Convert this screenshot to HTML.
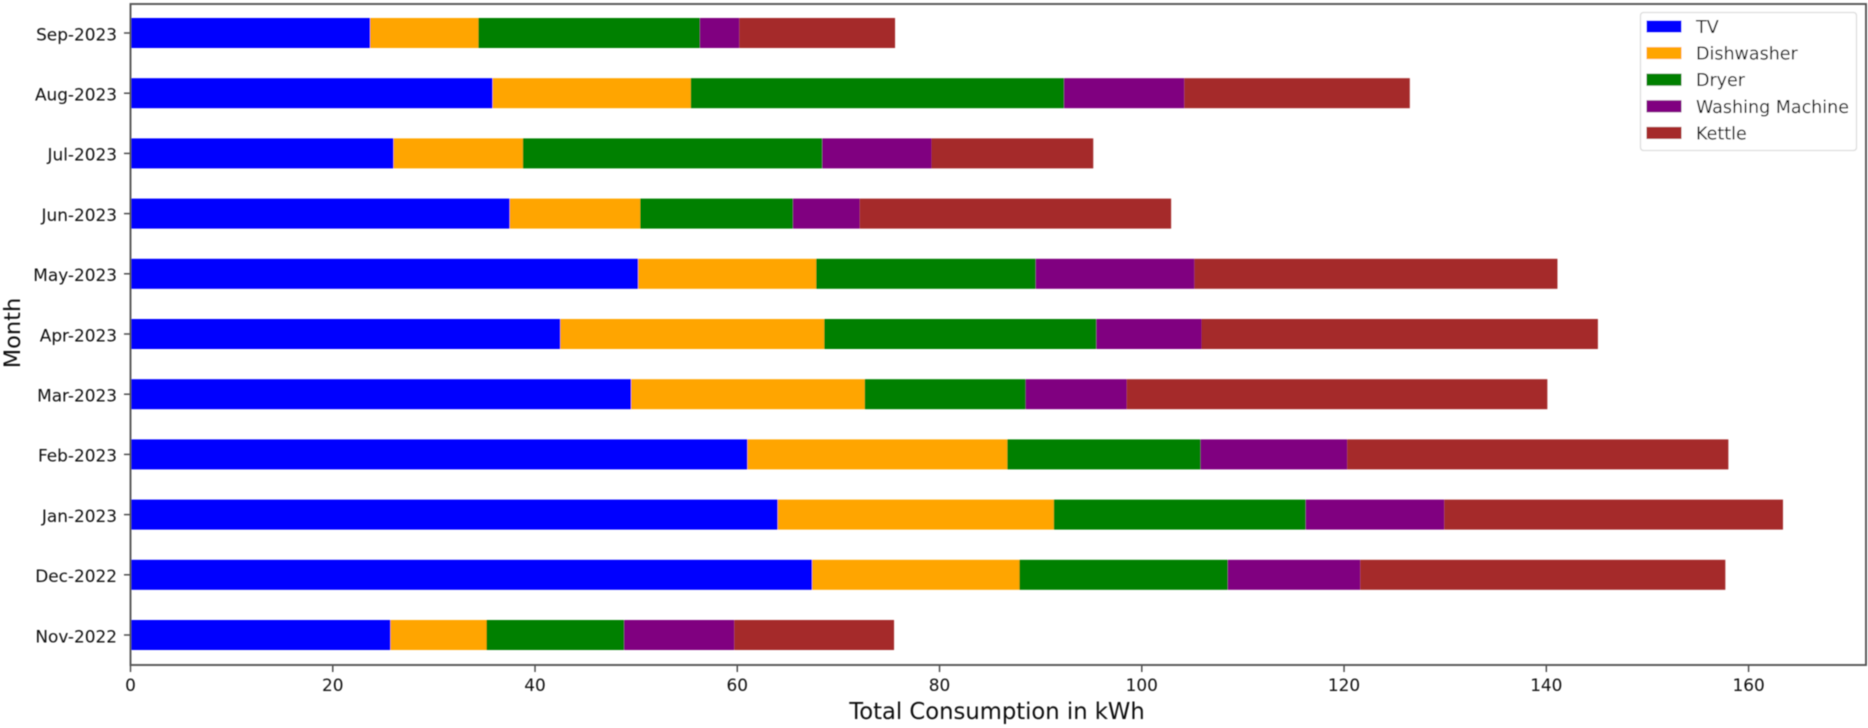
<!DOCTYPE html>
<html lang="en">
<head>
<meta charset="utf-8">
<title>Total Consumption by Month</title>
<style>
html,body{margin:0;padding:0;background:#fff;width:1868px;height:728px;overflow:hidden}
svg{display:block;font-family:"DejaVu Sans","Liberation Sans",sans-serif}
text{fill:#111}
</style>
</head>
<body>
<svg id="chart" width="1868" height="728" viewBox="0 0 1868 728" xmlns="http://www.w3.org/2000/svg">
  <defs>
    <filter id="soft" x="-2%" y="-2%" width="104%" height="104%"><feGaussianBlur stdDeviation="0.55"/></filter>
  </defs>
  <rect width="1868" height="728" fill="#fff"/>
  <g id="root" filter="url(#soft)">
    <g id="bars"></g>
    <g id="axes"></g>
    <rect x="130.5" y="4" width="1735.5" height="661" fill="none" stroke="#555" stroke-width="1.9"/>
    <text x="997" y="719" text-anchor="middle" font-size="22.7">Total Consumption in kWh</text>
    <text transform="translate(20 333) rotate(-90)" text-anchor="middle" font-size="22.5">Month</text>
    <g>
      <rect x="1640.5" y="12.5" width="216" height="138" rx="3" fill="#fff" fill-opacity="0.9" stroke="#ddd" stroke-width="1.3"/>
      <g id="legend-entries"></g>
    </g>
  </g>
</svg>
<script>
const months = ["Nov-2022","Dec-2022","Jan-2023","Feb-2023","Mar-2023","Apr-2023","May-2023","Jun-2023","Jul-2023","Aug-2023","Sep-2023"];
const seriesNames = ["TV","Dishwasher","Dryer","Washing Machine","Kettle"];
const seriesColors = ["#0000ff","#ffa500","#008000","#800080","#a52a2a"];
const tvValues = [25.7,67.4,64.0,61.0,49.5,42.5,50.2,37.5,26.0,35.8,23.7];
const dishwasherValues = [9.5,20.5,27.3,25.7,23.1,26.1,17.6,12.9,12.8,19.6,10.7];
const dryerValues = [13.6,20.6,24.9,19.1,15.9,26.9,21.7,15.1,29.6,36.9,21.9];
const washingMachineValues = [10.9,13.1,13.7,14.5,10.0,10.4,15.7,6.6,10.8,11.9,3.9];
const kettleValues = [15.8,36.1,33.5,37.7,41.6,39.2,35.9,30.8,16.0,22.3,15.4];
const xTickValues = [0,20,40,60,80,100,120,140,160];

const allSeries = [tvValues,dishwasherValues,dryerValues,washingMachineValues,kettleValues];
const seriesSlugs = ["tv","dishwasher","dryer","washing-machine","kettle"];
const NS = "http://www.w3.org/2000/svg";

function xScale(v){ return 130.5 + v * 10.113; }
function yScale(i){ return 635 - i * 60.2; }
const barHeight = 30;

function make(tag, attrs, parent){
  const el = document.createElementNS(NS, tag);
  for (const k in attrs) el.setAttribute(k, attrs[k]);
  parent.appendChild(el);
  return el;
}

const barsGroup = document.getElementById("bars");
const axesGroup = document.getElementById("axes");
const legendGroup = document.getElementById("legend-entries");

months.forEach(function(month, i){
  let cumulative = 0;
  allSeries.forEach(function(values, s){
    const x0 = xScale(cumulative);
    const x1 = xScale(cumulative + values[i]);
    const bar = make("rect", {x:x0, y:yScale(i)-barHeight/2, width:x1-x0, height:barHeight, fill:seriesColors[s]}, barsGroup);
    
    
    cumulative += values[i];
  });

  const tick = make("line", {x1:124, x2:131, y1:yScale(i), y2:yScale(i), stroke:"#444", "stroke-width":1.4}, axesGroup);
  
  
  const label = make("text", {x:117, y:yScale(i)+7.3, "text-anchor":"end", "font-size":16.9}, axesGroup);
  
  
  label.textContent = month;
});

xTickValues.forEach(function(v){
  const tick = make("line", {x1:xScale(v), x2:xScale(v), y1:665, y2:672, stroke:"#444", "stroke-width":1.4}, axesGroup);
  
  
  const label = make("text", {x:xScale(v), y:691, "text-anchor":"middle", "font-size":16.9}, axesGroup);
  
  
  label.textContent = String(v);
});

seriesNames.forEach(function(name, s){
  const cy = 26.5 + s * 26.6;
  const swatch = make("rect", {x:1646.5, y:cy-6, width:35, height:12, fill:seriesColors[s]}, legendGroup);
  
  
  const label = make("text", {x:1696, y:cy+6.5, "font-size":17.5}, legendGroup);
  
  
  label.textContent = name;
});
</script>
</body>
</html>
